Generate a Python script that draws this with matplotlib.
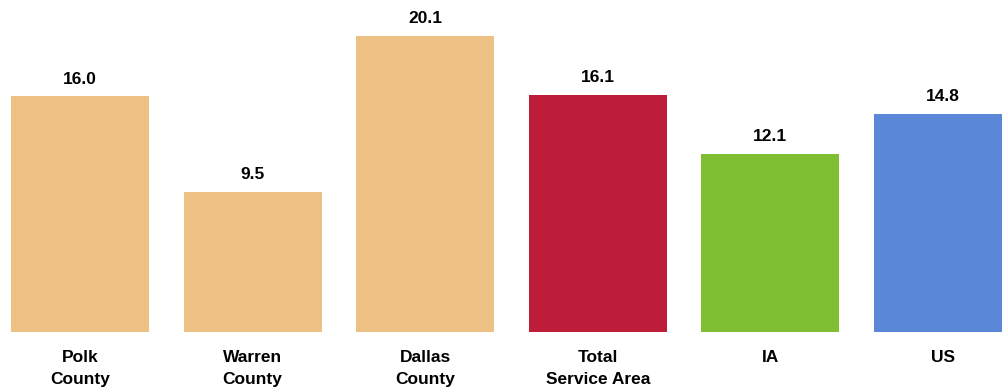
import matplotlib
matplotlib.use("Agg")
import matplotlib.pyplot as plt
from matplotlib import font_manager

categories = ["Polk\nCounty", "Warren\nCounty", "Dallas\nCounty", "Total\nService Area", "IA", "US"]
values = [16.0, 9.5, 20.1, 16.1, 12.1, 14.8]
colors = ["#EDC184", "#EDC184", "#EDC184", "#BE1D3A", "#80BF33", "#5B87D8"]

names = {f.name for f in font_manager.fontManager.ttflist}
fam = ["Liberation Sans Narrow", "Liberation Sans", "DejaVu Sans"]
fam = [f for f in fam if f in names] or ["DejaVu Sans"]
plt.rcParams['font.family'] = fam

fig = plt.figure(figsize=(10.03, 3.87), dpi=100)
ax = fig.add_axes([0, 55/387, 1, 332/387])
x = list(range(len(values)))
ax.bar(x, values, width=0.8, color=colors)
ax.set_xlim(-80/172.6, (1003-80)/172.6)
ax.set_ylim(0, 332/14.73)
for xi, v in zip(x, values):
    ax.annotate(f"{v:.1f}", (xi, v), xytext=(0, 7), textcoords="offset points",
                ha="center", va="bottom", fontsize=12.5, fontweight="bold")
ax.set_xticks(x)
ax.set_xticklabels(categories, fontsize=12.5, fontweight="bold", linespacing=1.6)
ax.tick_params(axis="x", length=0, pad=13)
ax.set_yticks([])
for s in ax.spines.values():
    s.set_visible(False)
fig.savefig("out.png", dpi=100)
